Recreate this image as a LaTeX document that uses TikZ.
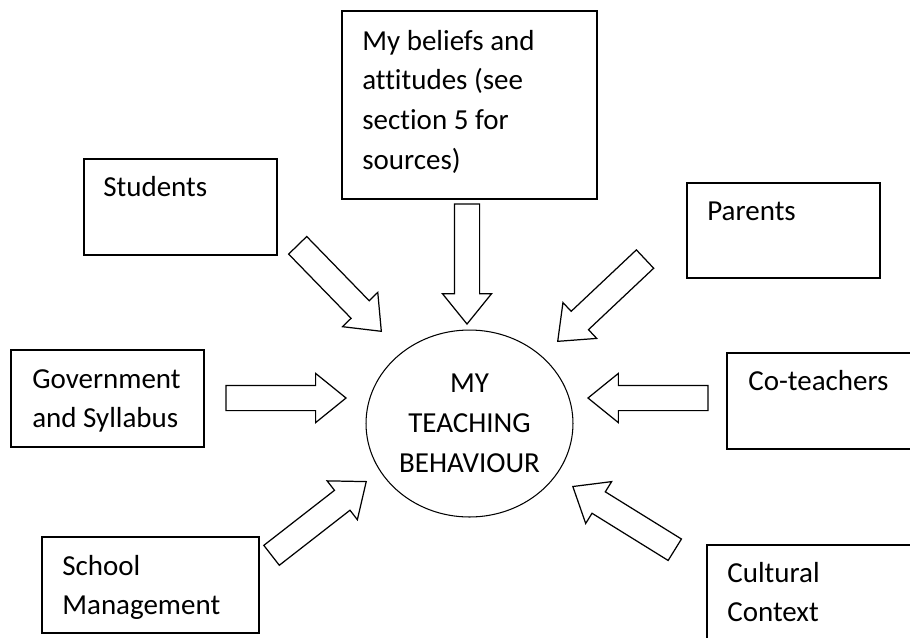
\documentclass[tikz,border=0pt]{standalone}
\usepackage{fontspec}
\setmainfont{Carlito}[Ligatures=NoCommon]
\usetikzlibrary{shapes.arrows,shapes.geometric}

\begin{document}
\begin{tikzpicture}[x=0.02cm, y=-0.02cm, font=\fontsize{16.5}{22.7}\selectfont]
% cadres, textes et grosses flèches creuses
\tikzset{cadre/.style={draw, line width=0.9pt, anchor=north west, inner sep=0pt},
texte/.style={anchor=base west, align=flush left, text width=4.6cm, inner sep=0pt},
fleche/.style={single arrow, draw, line width=0.7pt, fill=white, inner xsep=0pt,
  inner ysep=0.24cm, minimum height=2.4cm, single arrow head extend=0.24cm,
  single arrow tip angle=78, anchor=tip}}
\useasboundingbox (0,0) rectangle (910,637);
\clip (0,0) rectangle (910,637);

% le centre
\node[ellipse, draw, line width=0.6pt, minimum width=4.14cm, minimum height=3.74cm,
  inner sep=0pt, align=center] (moi) at (469.5,423.5) {MY\\TEACHING\\BEHAVIOUR};

% les sources
\node[cadre, minimum width=5.1cm, minimum height=3.76cm] (croy) at (341,10) {};
\node[texte] (croy-t) at ([shift={(21,40)}]croy.north west) {My beliefs and\\attitudes (see\\section 5 for\\sources)};
\node[cadre, minimum width=3.86cm, minimum height=1.92cm] (stu) at (83,158) {};
\node[texte] (stu-t) at ([shift={(20,38)}]stu.north west) {Students};
\node[cadre, minimum width=3.86cm, minimum height=1.9cm] (par) at (686,182) {};
\node[texte] (par-t) at ([shift={(21,38)}]par.north west) {Parents};
\node[cadre, minimum width=3.86cm, minimum height=1.94cm] (gov) at (10,349) {};
\node[texte] (gov-t) at ([shift={(22,39)}]gov.north west) {Government\\and Syllabus};
\node[cadre, minimum width=4.34cm, minimum height=1.92cm] (sch) at (41,536) {};
\node[texte] (sch-t) at ([shift={(21,39)}]sch.north west) {School\\Management};
\node[cadre, minimum width=4cm, minimum height=1.92cm] (cot) at (726,352) {};
\node[texte] (cot-t) at ([shift={(22,38)}]cot.north west) {Co-teachers};
\node[cadre, minimum width=4.4cm, minimum height=2.2cm] (cul) at (706,544) {};
\node[texte] (cul-t) at ([shift={(21,38)}]cul.north west) {Cultural\\Context};

% les flèches vers le centre
\node[fleche, rotate=-45.8] (f-stu) at (382,332) {};
\node[fleche, rotate=-90] (f-croy) at (467,325) {};
\node[fleche, rotate=-136.7] (f-par) at (557,342) {};
\node[fleche, rotate=0] (f-gov) at (347,398) {};
\node[fleche, rotate=180] (f-cot) at (587,398) {};
\node[fleche, rotate=37.9] (f-sch) at (367,481) {};
\node[fleche, rotate=148.2] (f-cul) at (572,486) {};
\end{tikzpicture}
\end{document}
